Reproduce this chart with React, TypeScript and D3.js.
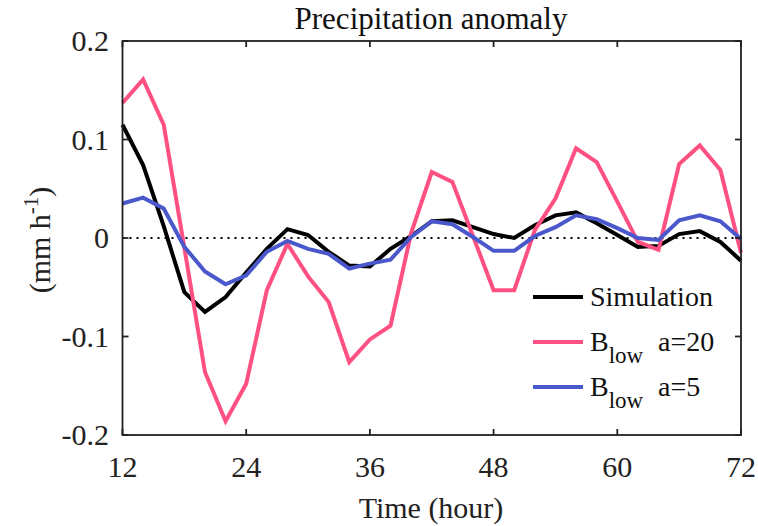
import React from "react";
import * as d3 from "d3";

const hours = [12, 14, 16, 18, 20, 22, 24, 26, 28, 30, 32, 34, 36, 38, 40, 42, 44, 46, 48, 50, 52, 54, 56, 58, 60, 62, 64, 66, 68, 70, 72];
const simulation = [0.115, 0.074, 0.012, -0.055, -0.075, -0.060, -0.035, -0.011, 0.009, 0.003, -0.014, -0.028, -0.029, -0.011, 0.002, 0.017, 0.018, 0.011, 0.004, 0.000, 0.013, 0.023, 0.026, 0.015, 0.003, -0.009, -0.008, 0.004, 0.007, -0.004, -0.023];
const blowA20 = [0.137, 0.161, 0.115, -0.010, -0.136, -0.186, -0.148, -0.053, -0.006, -0.039, -0.065, -0.126, -0.103, -0.089, 0.005, 0.067, 0.057, 0.002, -0.053, -0.053, 0.008, 0.040, 0.091, 0.077, 0.037, -0.004, -0.012, 0.075, 0.094, 0.069, -0.015];
const blowA5 = [0.035, 0.041, 0.030, -0.009, -0.034, -0.047, -0.038, -0.014, -0.003, -0.011, -0.016, -0.031, -0.026, -0.022, 0.001, 0.017, 0.014, 0.001, -0.013, -0.013, 0.002, 0.011, 0.023, 0.019, 0.010, 0.000, -0.002, 0.018, 0.023, 0.017, -0.001];
const xTicks = [12, 24, 36, 48, 60, 72];
const yTicks = [0.2, 0.1, 0, -0.1, -0.2];
const yTickLabels = ["0.2", "0.1", "0", "-0.1", "-0.2"];

const series = [
  { name: "Simulation", values: simulation, color: "#000000", sub: "", suffix: "" },
  { name: "B", values: blowA20, color: "#ff5082", sub: "low", suffix: "a=20" },
  { name: "B", values: blowA5, color: "#4a58cc", sub: "low", suffix: "a=5" },
];

const W = 758, H = 526;
const left = 122.5, right = 741, top = 41, bottom = 435;
const FONT = "\"Liberation Serif\"";

export default function App() {
  const x = d3.scaleLinear().domain([12, 72]).range([left, right]);
  const y = d3.scaleLinear().domain([-0.2, 0.2]).range([bottom, top]);
  const line = d3.line<number>().x((_, i) => x(hours[i])).y((d) => y(d));
  const tickLen = 6;
  const ts = { fontFamily: FONT };

  return (
    <svg width={W} height={H} style={{ position: "absolute", left: 0, top: 0, background: "#fff" }}>
      <rect x={0} y={0} width={W} height={H} fill="#fff" />
      <line x1={left} x2={right} y1={y(0)} y2={y(0)} stroke="#000" strokeWidth={2} strokeDasharray="2,5" />
      {series.map((s, k) => (
        <path key={k} d={line(s.values) || ""} fill="none" stroke={s.color} strokeWidth={4} strokeLinejoin="miter" />
      ))}
      <rect x={left} y={top} width={right - left} height={bottom - top} fill="none" stroke="#222" strokeWidth={1.8} />
      {xTicks.map((t) => (
        <g key={"x" + t}>
          <line x1={x(t)} x2={x(t)} y1={bottom} y2={bottom - tickLen} stroke="#222" strokeWidth={1.8} />
          <line x1={x(t)} x2={x(t)} y1={top} y2={top + tickLen} stroke="#222" strokeWidth={1.8} />
          <text x={x(t)} y={477} fontSize={30} textAnchor="middle" fill="#222" style={ts}>{t}</text>
        </g>
      ))}
      {yTicks.map((t, i) => (
        <g key={"y" + t}>
          <line x1={left} x2={left + tickLen} y1={y(t)} y2={y(t)} stroke="#222" strokeWidth={1.8} />
          <line x1={right} x2={right - tickLen} y1={y(t)} y2={y(t)} stroke="#222" strokeWidth={1.8} />
          <text x={109} y={y(t) + 10} fontSize={30} textAnchor="end" fill="#222" style={ts}>{yTickLabels[i]}</text>
        </g>
      ))}
      <text x={431} y={29} fontSize={31} textAnchor="middle" fill="#111" style={ts}>Precipitation anomaly</text>
      <text x={431} y={518} fontSize={30} textAnchor="middle" fill="#222" style={ts}>Time (hour)</text>
      <text transform={`translate(50, 240) rotate(-90)`} fontSize={30} textAnchor="middle" fill="#222" style={ts}>
        (mm h<tspan dy={-12} fontSize={21}>-1</tspan><tspan dy={12}>)</tspan>
      </text>
      {series.map((s, k) => {
        const rowY = [306, 351, 396][k];
        return (
          <g key={"lg" + k}>
            <line x1={533} x2={583} y1={rowY - 9} y2={rowY - 9} stroke={s.color} strokeWidth={4} />
            {s.sub ? (
              <text x={590} y={rowY} fontSize={28} fill="#111" style={ts}>
                {s.name}
                <tspan dy={12} fontSize={23}>{s.sub}</tspan>
                <tspan x={658} dy={-12}>{s.suffix}</tspan>
              </text>
            ) : (
              <text x={590} y={rowY} fontSize={28} fill="#111" style={ts}>{s.name}</text>
            )}
          </g>
        );
      })}
    </svg>
  );
}
